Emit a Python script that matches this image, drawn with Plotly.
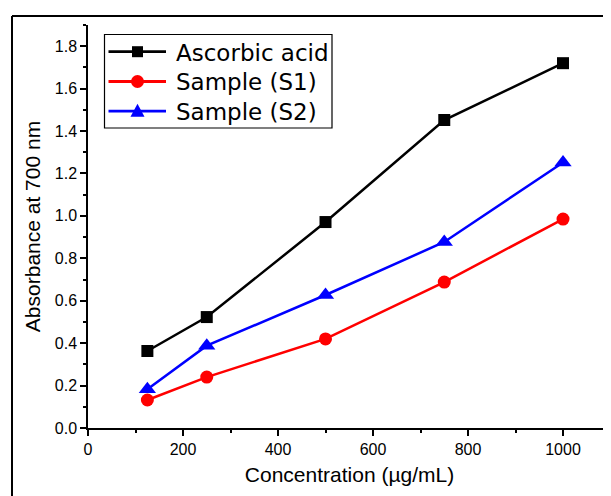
import plotly.graph_objects as go

conc = [125, 250, 500, 750, 1000]
ascorbic = [0.363, 0.523, 0.971, 1.452, 1.720]
s1 = [0.132, 0.240, 0.420, 0.688, 0.985]
s2 = [0.183, 0.388, 0.627, 0.877, 1.252]

series_names = ["Ascorbic acid", "Sample (S1)", "Sample (S2)"]
series_colors = ["#000000", "#ff0000", "#0000ff"]
series_symbols = ["square", "circle", "triangle-up"]

x_ticks = [0, 200, 400, 600, 800, 1000]
y_ticks = [0.0, 0.2, 0.4, 0.6, 0.8, 1.0, 1.2, 1.4, 1.6, 1.8]

# layout geometry (figure pixels); page has 8px body margin
W, H = 603, 488
ML, MR, MT, MB = 80, 0, 17, 68
PW, PH = W - ML - MR, H - MT - MB


def px(xp):
    return (xp - 8 - ML) / PW


def py(yp):
    return 1 - (yp - 8 - MT) / PH


fig = go.Figure()
sizes = [12, 13, 15]
for name, ys, col, sym, sz in zip(series_names, [ascorbic, s1, s2], series_colors, series_symbols, sizes):
    fig.add_trace(go.Scatter(
        x=conc, y=ys, name=name, mode="lines+markers",
        line=dict(color=col, width=2.5),
        marker=dict(symbol=sym, size=sz, color=col),
        showlegend=False,
    ))

font = "Liberation Sans, Arial, sans-serif"

shapes = [
    dict(type="line", xref="paper", yref="paper", x0=px(12), x1=px(12), y0=-0.25, y1=py(16),
         line=dict(color="black", width=2)),
    dict(type="line", xref="paper", yref="paper", x0=px(12), x1=1.05, y0=py(16), y1=py(16),
         line=dict(color="black", width=2)),
    # legend box
    dict(type="rect", xref="paper", yref="paper", x0=px(104.5), x1=px(332), y0=py(128), y1=py(34.5),
         line=dict(color="black", width=1.2), fillcolor="white", layer="above"),
]
annotations = []
row_y = [51.7, 81.5, 111.2]
for name, col, sym, ry in zip(series_names, series_colors, series_symbols, row_y):
    shapes.append(dict(type="line", xref="paper", yref="paper", x0=px(108.5), x1=px(166),
                       y0=py(ry), y1=py(ry), line=dict(color=col, width=2.8), layer="above"))
    cx = 137.5
    if sym == "square":
        shapes.append(dict(type="rect", xref="paper", yref="paper", x0=px(cx - 5.5), x1=px(cx + 5.5),
                           y0=py(ry + 5.5), y1=py(ry - 5.5), line=dict(width=0), fillcolor=col, layer="above"))
    elif sym == "circle":
        shapes.append(dict(type="circle", xref="paper", yref="paper", x0=px(cx - 6.5), x1=px(cx + 6.5),
                           y0=py(ry + 6.5), y1=py(ry - 6.5), line=dict(width=0), fillcolor=col, layer="above"))
    else:
        path = "M {:.5f},{:.5f} L {:.5f},{:.5f} L {:.5f},{:.5f} Z".format(
            px(cx - 7), py(ry + 5.5), px(cx + 7), py(ry + 5.5), px(cx), py(ry - 7.5))
        shapes.append(dict(type="path", xref="paper", yref="paper", path=path,
                           line=dict(width=0), fillcolor=col, layer="above"))
    annotations.append(dict(text=name, xref="paper", yref="paper", x=px(174), y=py(ry + 1),
                            xanchor="left", yanchor="middle", showarrow=False,
                            font=dict(family="DejaVu Sans", size=23, color="black")))

fig.update_layout(
    width=W, height=H,
    margin=dict(l=ML, r=MR, t=MT, b=MB),
    paper_bgcolor="white", plot_bgcolor="white",
    font=dict(family=font, color="black", size=16),
    showlegend=False,
    xaxis=dict(
        range=[0, 1101], tickvals=x_ticks, ticktext=[str(v) for v in x_ticks],
        showgrid=False, zeroline=False, showline=True, linecolor="black", linewidth=1.5,
        ticks="outside", ticklen=6, tickwidth=1.5, tickcolor="black",
        minor=dict(tickvals=[100, 300, 500, 700, 900, 1100], ticks="outside", ticklen=3, tickwidth=1.5, tickcolor="black"),
        title=dict(text="Concentration (µg/mL)", font=dict(size=21), standoff=10),
        tickfont=dict(size=16),
    ),
    yaxis=dict(
        range=[0, 1.9], tickvals=y_ticks, ticktext=[f"{v:.1f}" for v in y_ticks],
        showgrid=False, zeroline=False, showline=True, linecolor="black", linewidth=1.5,
        ticks="outside", ticklen=6, tickwidth=1.5, tickcolor="black",
        minor=dict(tickvals=[0.1, 0.3, 0.5, 0.7, 0.9, 1.1, 1.3, 1.5, 1.7, 1.9], ticks="outside", ticklen=3, tickwidth=1.5, tickcolor="black"),
        title=dict(text="Absorbance at 700 nm", font=dict(size=21), standoff=8),
        tickfont=dict(size=16),
    ),
    shapes=shapes,
    annotations=annotations,
)

fig.write_html("out.html")
